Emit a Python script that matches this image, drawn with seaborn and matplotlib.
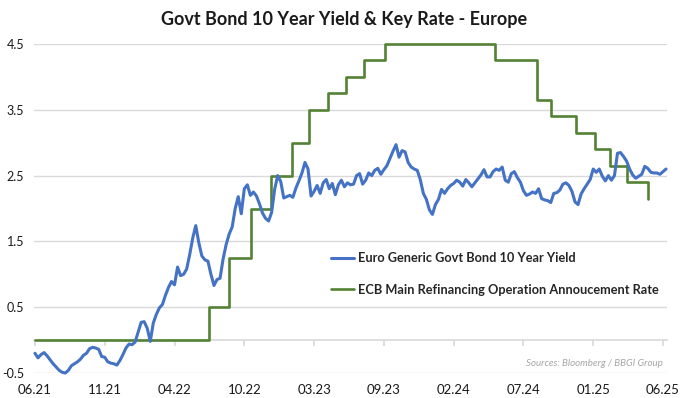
import numpy as np
import pandas as pd
import matplotlib.pyplot as plt
import seaborn as sns

# Euro generic govt bond 10y yield, one reading every 5 trading days (from 06.21)
yield_10y = [
    -0.20, -0.27, -0.22, -0.19, -0.24, -0.30, -0.36, -0.41, -0.46, -0.49,
    -0.50, -0.46, -0.39, -0.36, -0.33, -0.29, -0.23, -0.20, -0.13, -0.11,
    -0.12, -0.14, -0.25, -0.26, -0.33, -0.35, -0.36, -0.38, -0.31, -0.22,
    -0.12, -0.06, -0.07, -0.03, 0.12, 0.27, 0.28, 0.18, -0.02, 0.26,
    0.39, 0.49, 0.54, 0.68, 0.80, 0.89, 0.84, 1.11, 0.98, 1.00,
    1.08, 1.30, 1.55, 1.74, 1.48, 1.28, 1.22, 1.20, 1.00, 0.83,
    0.92, 0.94, 1.23, 1.45, 1.61, 1.72, 2.00, 2.18, 1.92, 2.30,
    2.36, 2.20, 2.25, 2.19, 2.07, 1.93, 1.85, 1.81, 1.94, 2.29,
    2.50, 2.41, 2.16, 2.18, 2.20, 2.17, 2.31, 2.42, 2.54, 2.70,
    2.60, 2.19, 2.26, 2.35, 2.23, 2.39, 2.44, 2.30, 2.38, 2.21,
    2.36, 2.43, 2.33, 2.39, 2.36, 2.37, 2.50, 2.53, 2.37, 2.43,
    2.54, 2.50, 2.58, 2.61, 2.52, 2.59, 2.65, 2.76, 2.87, 2.97,
    2.78, 2.88, 2.86, 2.70, 2.63, 2.60, 2.58, 2.44, 2.23, 2.14,
    1.98, 1.91, 2.06, 2.14, 2.29, 2.23, 2.30, 2.35, 2.38, 2.43,
    2.40, 2.34, 2.44, 2.39, 2.33, 2.39, 2.45, 2.51, 2.59, 2.48,
    2.48, 2.56, 2.60, 2.58, 2.63, 2.43, 2.40, 2.53, 2.56, 2.47,
    2.40, 2.27, 2.20, 2.22, 2.25, 2.23, 2.30, 2.15, 2.13, 2.12,
    2.09, 2.23, 2.24, 2.28, 2.37, 2.39, 2.35, 2.26, 2.10, 2.06,
    2.22, 2.30, 2.37, 2.44, 2.60, 2.55, 2.60, 2.49, 2.42, 2.50,
    2.43, 2.50, 2.84, 2.85, 2.79, 2.72, 2.60, 2.51, 2.46, 2.49,
    2.52, 2.64, 2.61, 2.55, 2.54, 2.54, 2.52, 2.56, 2.60,
]
reading_step = 5  # trading days between readings

# ECB main refinancing rate: trading day of each change and new level
rate_change_day = [0, 287, 320, 356, 389, 424, 452, 483, 513, 542, 577,
                   758, 827, 850, 892, 923, 948, 976, 1010]
rate_level = [0.0, 0.5, 1.25, 2.0, 2.5, 3.0, 3.5, 3.75, 4.0, 4.25, 4.5,
              4.25, 3.65, 3.40, 3.15, 2.90, 2.65, 2.40, 2.15]

tick_labels = ["06.21", "11.21", "04.22", "10.22", "03.23",
               "09.23", "02.24", "07.24", "01.25", "06.25"]
tick_every = 115  # trading days between date labels
y_ticks = [-0.5, 0.5, 1.5, 2.5, 3.5, 4.5]

blue = "#4472C4"
green = "#548235"
grid_col = "#d9d9d9"

sns.set_theme(style="white")
plt.rcParams["font.family"] = ["Lato", "DejaVu Sans"]

yield_df = pd.DataFrame({"day": np.arange(len(yield_10y)) * reading_step,
                         "value": yield_10y})
rate_df = pd.DataFrame({"day": rate_change_day, "value": rate_level})

fig = plt.figure(figsize=(6.89, 3.98), dpi=100)
ax = fig.add_axes([34 / 689, 25 / 398, 633 / 689, 329 / 398])

sns.lineplot(data=rate_df, x="day", y="value", ax=ax, color=green, lw=1.9,
             drawstyle="steps-post", label="ECB Main Refinancing Operation Annoucement Rate",
             clip_on=False, zorder=3)
sns.lineplot(data=yield_df, x="day", y="value", ax=ax, color=blue, lw=2.2,
             label="Euro Generic Govt Bond 10 Year Yield", clip_on=False, zorder=4)

ax.set_xlim(-1.6, 1041.6)
ax.set_ylim(-0.5, 4.5)
ax.set_xlabel("")
ax.set_ylabel("")

ticks = np.arange(len(tick_labels)) * tick_every
ax.set_xticks(ticks)
ax.set_xticklabels(tick_labels)
ax.set_yticks(y_ticks)
ax.set_yticklabels([f"{v:.1f}" for v in y_ticks])
ax.tick_params(axis="x", length=0, pad=8, labelsize=9.5, labelcolor="#1a1a1a")
ax.tick_params(axis="y", length=0, pad=7, labelsize=9, labelcolor="#1a1a1a")
ax.grid(axis="y", color=grid_col, lw=1)
ax.grid(axis="x", visible=False)
for s in ax.spines.values():
    s.set_visible(False)

# category axis crossing at zero, with small tick marks
sec = ax.secondary_xaxis(0.1)
sec.set_xticks(ticks)
sec.tick_params(axis="x", direction="out", length=4, color=grid_col, labelbottom=False)
sec.spines["bottom"].set_color(grid_col)

# legend (yield first)
h, l = ax.get_legend_handles_labels()
ax.legend(h[::-1], l[::-1], loc="upper left", bbox_to_anchor=(331 / 689, 1 - 252 / 398),
          bbox_transform=fig.transFigure, frameon=False, borderpad=0, borderaxespad=0,
          handlelength=1.8, handletextpad=0.3, labelspacing=1.55,
          prop={"weight": "bold", "size": 9.2})

ax.text(0.9937, 0.03, "Sources: Bloomberg / BBGI Group", transform=ax.transAxes,
        ha="right", va="center", fontsize=7, style="italic", color="#a6a6a6")

fig.text(0.5, 1 - 19 / 398, "Govt Bond 10 Year Yield & Key Rate - Europe",
         ha="center", va="center", fontsize=13, fontweight="bold", color="#1a1a1a")

fig.savefig("out.png", dpi=100)
